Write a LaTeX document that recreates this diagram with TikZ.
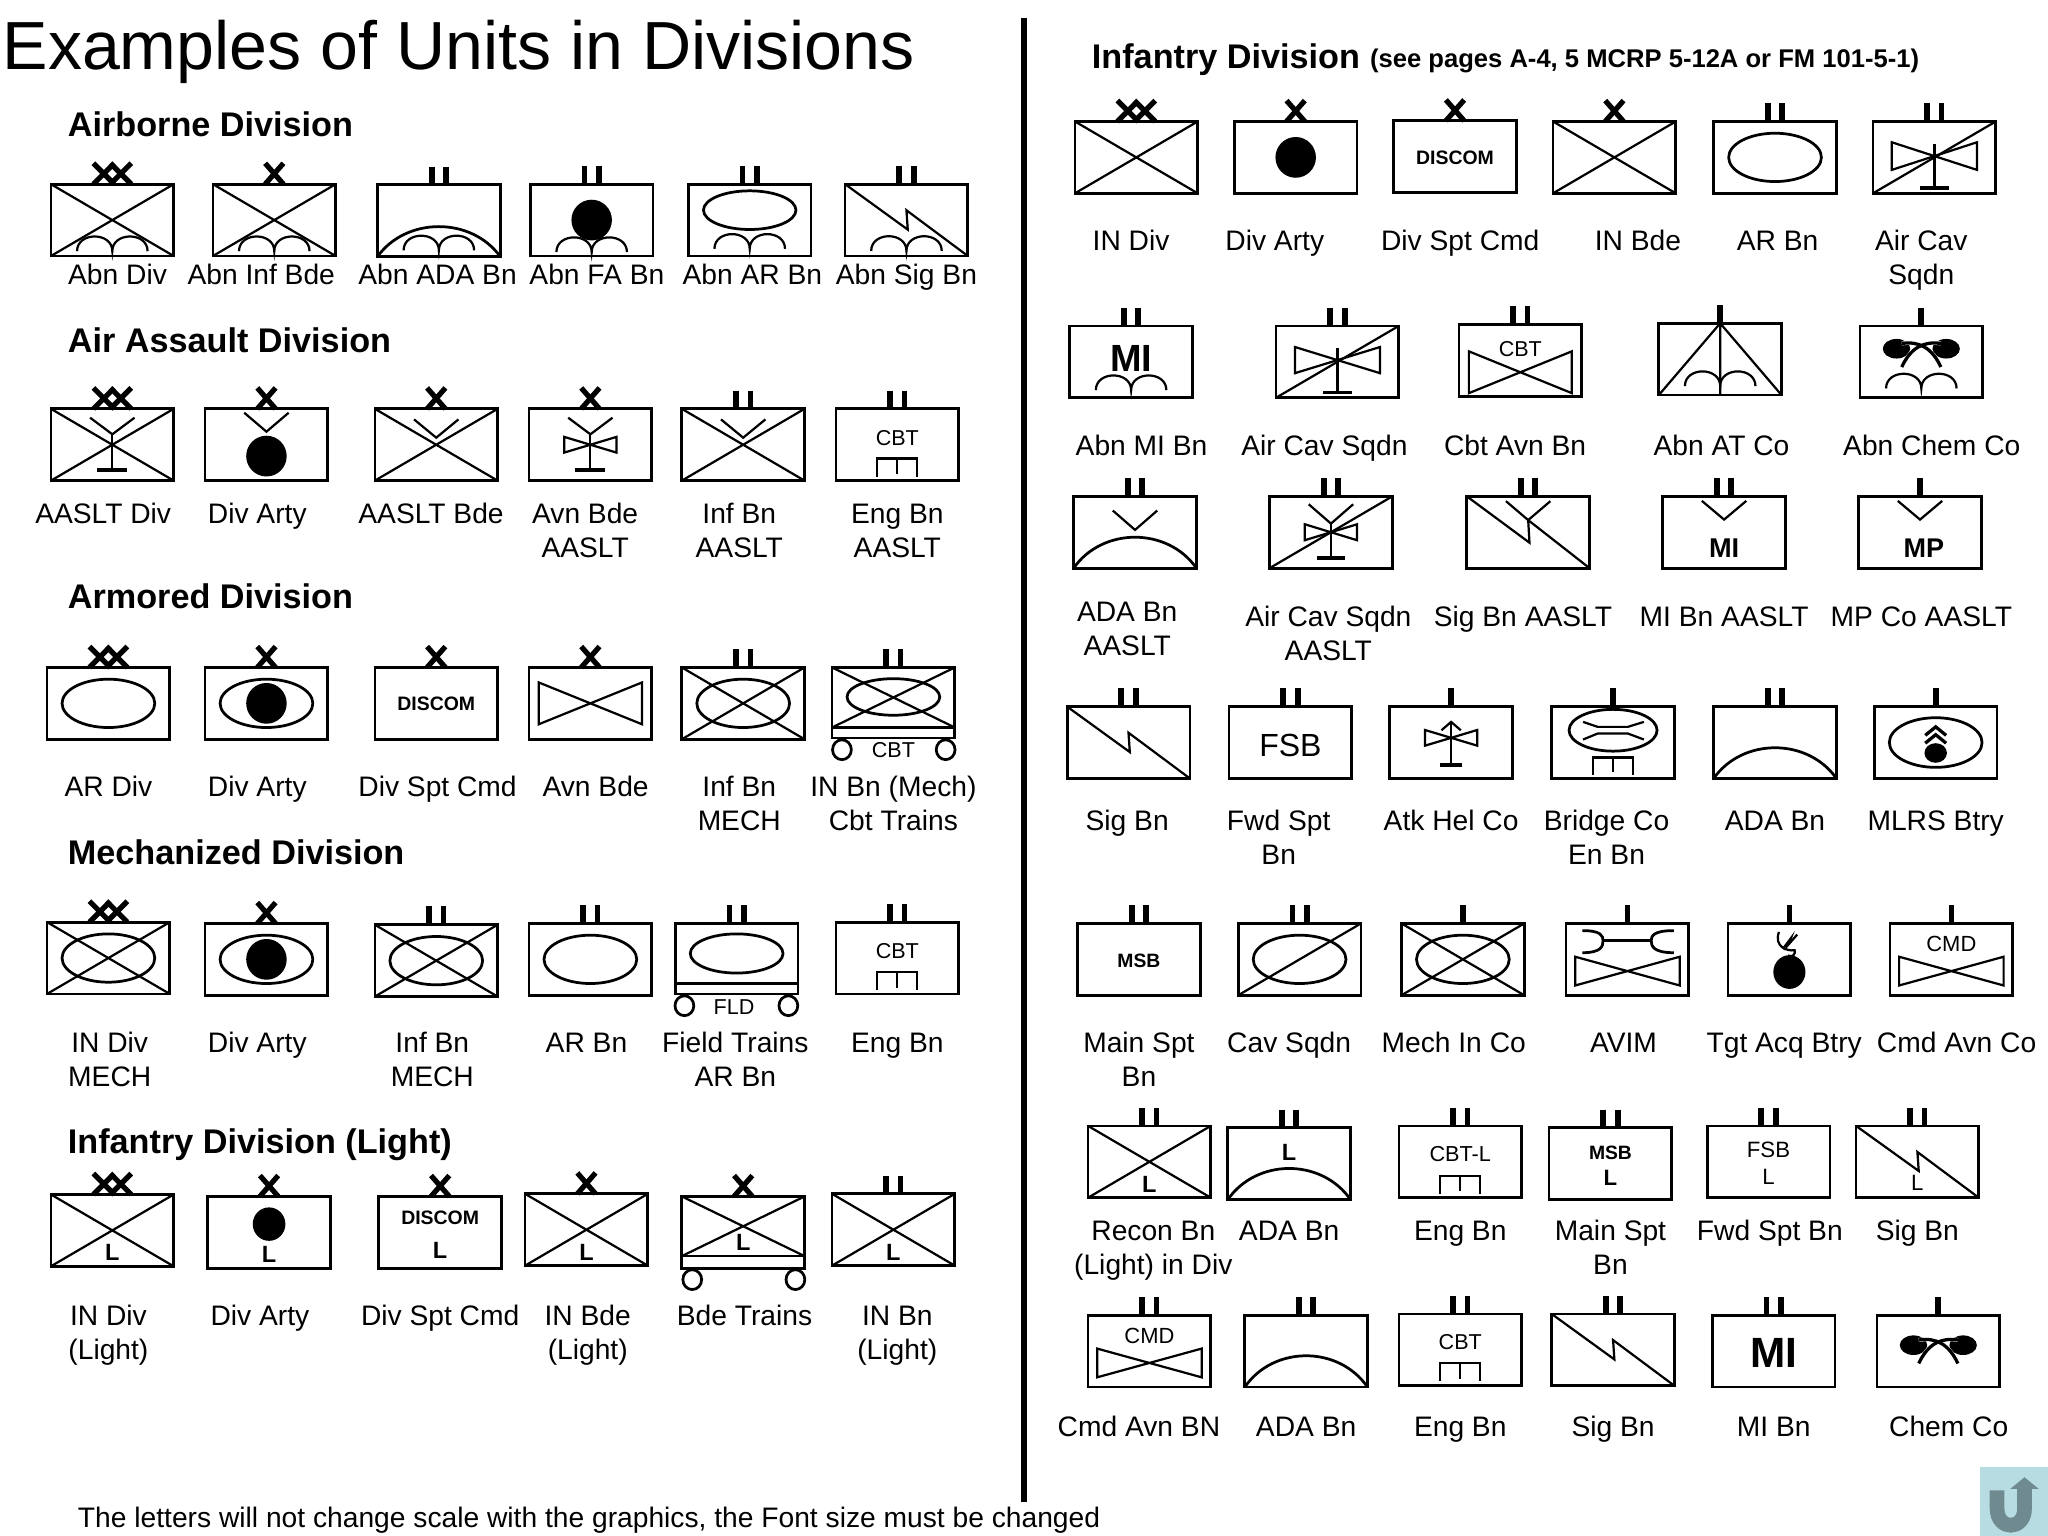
\documentclass[tikz,border=0pt]{standalone}
\usepackage{fontspec}
\setmainfont{Liberation Sans}
\newcount\nn
\definecolor{iconbg}{HTML}{B7DDE3}
\definecolor{iconfg}{HTML}{6F8B90}
\tikzset{
  x=0.02cm,y=-0.02cm,
  boxln/.style={line width=0.042cm},
  th/.style={line width=0.034cm,line join=miter},
  ech/.style={line width=0.08cm},
  unitbox/.style={draw,boxln,rectangle,inner sep=0pt,outer sep=0pt,fill=white},
  plain/.style={inner sep=0pt,outer sep=0pt}
}
% text helpers
\newcommand\usz[1]{\fontsize{\fpeval{#1*0.569}pt}{\fpeval{#1*0.7}pt}\selectfont}
\newcommand\Lb[3]{\global\advance\nn 1\relax\node[plain,anchor=base] (t\the\nn) at (#1,#2+7.5) {\usz{21.6}#3};}
\newcommand\Hd[3]{\global\advance\nn 1\relax\node[plain,anchor=base west] (t\the\nn) at (#1,#2+8.5) {\usz{26.2}\bfseries #3};}
\newcommand\Tr[4]{\global\advance\nn 1\relax\node[plain] (t\the\nn) at (#1,#2) {\usz{#3}#4};}
\newcommand\Tb[4]{\global\advance\nn 1\relax\node[plain] (t\the\nn) at (#1,#2) {\usz{#3}\bfseries #4};}
% echelons
\newcommand\eXX{\draw[ech] (-14.5,-\hh-16)--(1.5,-\hh) (-14.5,-\hh)--(1.5,-\hh-16) (-1.5,-\hh-16)--(14.5,-\hh) (-1.5,-\hh)--(14.5,-\hh-16);}
\newcommand\eX{\draw[ech] (-7,-\hh-16)--(7,-\hh) (-7,-\hh)--(7,-\hh-16);}
\newcommand\eII{\draw[ech,line width=0.088cm] (-5.5,-\hh-14)--(-5.5,-\hh) (5.5,-\hh-14)--(5.5,-\hh);}
\newcommand\eI{\draw[ech,line width=0.088cm] (0,-\hh-14)--(0,-\hh);}
\newcommand\eN{}
% unit frame
\newcommand\mil[5][55]{%
  \begin{scope}[shift={(#2,#3)}]
  \pgfmathsetmacro\hh{#1/2}
  \global\advance\nn 1\relax
  \node[unitbox,minimum width=1.88cm,minimum height=#1*0.02cm] (b\the\nn) at (0,0) {};
  #4
  #5
  \end{scope}}
% symbols
\newcommand\Xd{\draw[th] (-47,-\hh)--(47,\hh) (-47,\hh)--(47,-\hh);}
\newcommand\Sld{\draw[th] (-47,\hh)--(47,-\hh);}
\newcommand\Ov[3]{\draw[boxln] (0,#1) ellipse [x radius=#2,y radius=#3];}
\newcommand\Dt[3]{\fill (0,#1) ellipse [x radius=#2,y radius=#3];}
\newcommand\Ab[1]{\draw[th] (-27,#1) .. controls (-27,#1-15) and (0,#1-15) .. (0,#1) .. controls (0,#1-15) and (27,#1-15) .. (27,#1);}
\newcommand\Ad[1]{\draw[boxln] (-47,\hh) .. controls (-25,{#1*4/3-\hh/3}) and (25,{#1*4/3-\hh/3}) .. (47,\hh);}
\newcommand\Zg[2]{\draw[th] (-47,-\hh)--(1,#2)--(0,#1)--(47,\hh);}
\newcommand\Bw[3]{\draw[th] (-#2,#1-#3)--(#2,#1+#3)--(#2,#1-#3)--(-#2,#1+#3)--cycle;}
\newcommand\Vv[2]{\draw[th] (-17,#1)--(0,#2)--(17,#1);}
\newcommand\Stem[3]{\draw[th] (0,#1)--(0,#2); \draw[line width=0.06cm] (-#3,#2)--(#3,#2);}
\newcommand\En[2]{\draw[th] (-15.3,#2)--(-15.3,#1)--(15.3,#1)--(15.3,#2) (0,#1)--(0,#2-2);}
\newcommand\Whl[3]{\draw[boxln] (#1,#3) ellipse [x radius=7.2,y radius=7.6] (#2,#3) ellipse [x radius=7.2,y radius=7.6];}
\newcommand\Chem[1]{%
  \fill (-19,#1) ellipse [x radius=10.5,y radius=7.5];
  \fill (19,#1) ellipse [x radius=10.5,y radius=7.5];
  \draw[white,line width=0.06cm] (-15,#1+14) .. controls (-8,#1-1) and (2,#1-6) .. (15,#1-4);
  \draw[white,line width=0.06cm] (15,#1+14) .. controls (8,#1-1) and (-2,#1-6) .. (-15,#1-4);
  \draw[line width=0.05cm] (-15,#1+14) .. controls (-8,#1-1) and (2,#1-6) .. (15,#1-4);
  \draw[line width=0.05cm] (15,#1+14) .. controls (8,#1-1) and (-2,#1-6) .. (-15,#1-4);}
\begin{document}
\begin{tikzpicture}
\useasboundingbox (0,0) rectangle (1568,1176);
\global\advance\nn 1\relax
\node[plain,anchor=base west] (title) at (2,53) {\usz{52.15}Examples of Units in Divisions};
\coordinate (divtop) at (784,14);
\coordinate (divbot) at (784,1150);
\draw[line width=0.08cm] (divtop)--(divbot);

%% Airborne
\Hd{52}{96}{Airborne Division}
\mil{86}{168.5}{\eXX}{\Xd\Ab{23.8}}
\mil{210}{168.5}{\eX}{\Xd\Ab{23.8}}
\mil{336}{169}{\eII}{\Ad{4.5}\Ab{22.7}}
\mil{453}{168.5}{\eII}{\Dt{0}{15.5}{15.6}\Ab{24.5}}
\mil{574}{168.5}{\eII}{\Ov{-7.6}{35.4}{14.8}\Ab{22}}
\mil{694}{168.5}{\eII}{\Zg{-7.5}{7.3}\Ab{23.6}}
\Lb{90}{210}{Abn Div}\Lb{200}{210}{Abn Inf Bde}\Lb{335}{210}{Abn ADA Bn}\Lb{457}{210}{Abn FA Bn}\Lb{576}{210}{Abn AR Bn}\Lb{694}{210}{Abn Sig Bn}

%% Air Assault
\Hd{52}{261}{Air Assault Division}
\mil{86}{340.5}{\eXX}{\Xd\Vv{-20.7}{-8}\Stem{-8}{19.6}{11.5}}
\mil{204}{340.5}{\eX}{\Vv{-24.5}{-10}\Dt{8.7}{15.5}{15.6}}
\mil{334}{340.5}{\eX}{\Xd\Vv{-19.4}{-5.4}}
\mil{452}{340.5}{\eX}{\Vv{-20.7}{-8}\Stem{-8}{19.6}{11.5}\Bw{0}{20}{6}}
\mil{569}{340.5}{\eII}{\Xd\Vv{-19.4}{-5.4}}
\mil{687}{340.5}{\eII}{\Tr{0}{-5.4}{16.5}{CBT}\En{10.5}{24.7}}
\Lb{79}{393}{AASLT Div}\Lb{197}{393}{Div Arty}\Lb{330}{393}{AASLT Bde}
\Lb{448}{393}{Avn Bde}\Lb{448}{419}{AASLT}\Lb{566}{393}{Inf Bn}\Lb{566}{419}{AASLT}\Lb{687}{393}{Eng Bn}\Lb{687}{419}{AASLT}

%% Armored
\Hd{52}{457}{Armored Division}
\mil{83}{538.5}{\eXX}{\Ov{0}{35.5}{18.5}}
\mil{204}{538.5}{\eX}{\Ov{0}{35.5}{18.5}\Dt{0}{15.5}{15.6}}
\mil{334}{538.5}{\eX}{\Tb{0}{0.5}{14.9}{DISCOM}}
\mil{452}{538.5}{\eX}{\Bw{0}{39.5}{16}}
\mil{569}{538.5}{\eII}{\Xd\Ov{0}{35.5}{18.5}}
\mil[54]{684}{538}{\eII}{\draw[th] (-47,-27)--(47,19) (-47,19)--(47,-27); \Ov{-4.4}{35.5}{14}\draw[boxln] (-47,19)--(47,19); \Whl{-39.4}{40}{36}\Tr{0}{36.5}{16.5}{CBT}}
\Lb{83}{602}{AR Div}\Lb{197}{602}{Div Arty}\Lb{335}{602}{Div Spt Cmd}\Lb{456}{602}{Avn Bde}
\Lb{566}{602}{Inf Bn}\Lb{566}{628}{MECH}\Lb{684}{602}{IN Bn (Mech)}\Lb{684}{628}{Cbt Trains}

%% Mechanized
\Hd{52}{653}{Mechanized Division}
\mil{83}{733.5}{\eXX}{\Xd\Ov{0}{35.5}{18.5}}
\mil{204}{734.5}{\eX}{\Ov{0}{35.5}{18.5}\Dt{0}{15.5}{15.6}}
\mil{334}{735.5}{\eII}{\Xd\Ov{0}{35.5}{18.5}}
\mil{452}{734.5}{\eII}{\Ov{0}{35.5}{18.5}}
\mil[54]{564}{734}{\eII}{\Ov{-4}{35.5}{15}\draw[boxln] (-47,19)--(47,19); \Whl{-40}{39.6}{36}\Tr{-2}{37}{16.5}{FLD}}
\mil{687}{733.5}{\eII}{\Tr{0}{-5.4}{16.5}{CBT}\En{10.5}{24.7}}
\Lb{84}{798}{IN Div}\Lb{84}{824}{MECH}\Lb{197}{798}{Div Arty}\Lb{331}{798}{Inf Bn}\Lb{331}{824}{MECH}
\Lb{449}{798}{AR Bn}\Lb{563}{798}{Field Trains}\Lb{563}{824}{AR Bn}\Lb{687}{798}{Eng Bn}

%% Infantry (Light)
\Hd{52}{875}{Infantry Division (Light)}
\mil{86}{942}{\eXX}{\Xd\Tb{0}{17}{18}{L}}
\mil{206}{943.5}{\eX}{\Dt{-6.3}{12.5}{12.8}\Tb{0}{16.7}{18}{L}}
\mil{337}{943.5}{\eX}{\Tb{0}{-11}{14.9}{DISCOM}\Tb{0}{13.7}{18}{L}}
\mil{449}{941.5}{\eX}{\Xd\Tb{0}{17}{18}{L}}
\mil[55]{569}{943.5}{\eX}{\draw[th] (-47,-27.5)--(47,18.2) (-47,18.2)--(47,-27.5); \draw[boxln] (-47,18.2)--(47,18.2); \Whl{-39}{40}{36.2}\Tb{0}{7.5}{18}{L}}
\mil{684}{941.5}{\eII}{\Xd\Tb{0}{17}{18}{L}}
\Lb{83}{1007}{IN Div}\Lb{83}{1033}{(Light)}\Lb{199}{1007}{Div Arty}\Lb{337}{1007}{Div Spt Cmd}
\Lb{450}{1007}{IN Bde}\Lb{450}{1033}{(Light)}\Lb{570}{1007}{Bde Trains}\Lb{687}{1007}{IN Bn}\Lb{687}{1033}{(Light)}

\Lb{451}{1162}{The letters will not change scale with the graphics, the Font size must be changed}

%% Right heading
\Hd{836}{44}{Infantry Division}
\global\advance\nn 1\relax
\node[plain,anchor=base west] (seepages) at (1049,52) {\usz{19.6}\bfseries (see pages A-4, 5 MCRP 5-12A or FM 101-5-1)};

%% R1
\mil{870}{120.5}{\eXX}{\Xd}
\mil{992}{120.5}{\eX}{\Dt{0}{15.5}{15.6}}
\mil{1114}{120}{\eX}{\Tb{0}{0.5}{14.9}{DISCOM}}
\mil{1236}{120.5}{\eX}{\Xd}
\mil{1359}{120.5}{\eII}{\Ov{0}{35.5}{18.5}}
\mil{1481}{120.5}{\eII}{\Sld\Bw{-1}{32.7}{10.6}\Stem{-10.5}{23.5}{11}}
\Lb{866}{184}{IN Div}\Lb{976}{184}{Div Arty}\Lb{1118}{184}{Div Spt Cmd}\Lb{1254}{184}{IN Bde}\Lb{1361}{184}{AR Bn}\Lb{1471}{184}{Air Cav}\Lb{1471}{210}{Sqdn}

%% R2
\mil{866}{277}{\eII}{\Tb{0}{-2.5}{29}{MI}\Ab{21.7}}
\mil{1024}{277}{\eII}{\Sld\Bw{-1.3}{32.5}{10}\Stem{-10.5}{23.5}{11}}
\mil{1164}{276}{\eII}{\Tr{0}{-9}{16.5}{CBT}\Bw{9}{39.4}{16}}
\mil{1317}{275}{\eI}{\draw[th] (-47,\hh)--(0,-\hh)--(47,\hh) (0,-\hh)--(0,\hh); \Ab{20.6}}
\mil{1471}{277}{\eI}{\Chem{-10}\Ab{20.4}}
\Lb{874}{341}{Abn MI Bn}\Lb{1014}{341}{Air Cav Sqdn}\Lb{1160}{341}{Cbt Avn Bn}\Lb{1318}{341}{Abn AT Co}\Lb{1479}{341}{Abn Chem Co}

%% R3
\mil{869}{407.5}{\eII}{\Ad{3.8}\Vv{-16.6}{-1.8}}
\mil{1019}{407.5}{\eII}{\Sld\Vv{-21.4}{-6.6}\Stem{-6.6}{20}{11}\Bw{0}{20}{6.1}}
\mil{1170}{407.5}{\eII}{\Zg{-9.3}{8}\Vv{-23.8}{-9.3}}
\mil{1320}{407.5}{\eII}{\Vv{-24}{-9.7}\Tb{0}{12}{20.8}{MI}}
\mil{1470}{407.5}{\eI}{\Vv{-24}{-9.7}\Tb{3}{12}{20.7}{MP}}
\Lb{863}{468}{ADA Bn}\Lb{863}{494}{AASLT}\Lb{1017}{472}{Air Cav Sqdn}\Lb{1017}{498}{AASLT}\Lb{1166}{472}{Sig Bn AASLT}\Lb{1320}{472}{MI Bn AASLT}\Lb{1471}{472}{MP Co AASLT}

%% R4
\mil{864}{568.5}{\eII}{\Zg{-7.5}{7.3}}
\mil{988}{568.5}{\eII}{\Tr{0}{2}{24.5}{FSB}}
\mil{1111}{568.5}{\eI}{\Stem{-15.8}{17}{8.6}\draw[th] (-7.4,-9.4)--(0,-15.8)--(7.4,-9.4); \Bw{-3.6}{20}{6}}
\mil{1235}{568.5}{\eI}{\Ov{-9.4}{33.7}{16}\draw[th] (-23,-15.8)--(-11.8,-12)--(11.3,-12)--(23.6,-15.8) (-23,-2.3)--(-11.8,-6.9)--(11.3,-6.9)--(23.6,-2.3); \En{11.5}{24.5}}
\mil{1359}{568.5}{\eII}{\Ad{4}}
\mil{1482}{568.5}{\eI}{\Ov{0}{35.5}{19}\Dt{8}{8.6}{7.5}\draw[line width=0.05cm] (-8,-5.5)--(0,-12)--(8,-5.5) (-8,0.5)--(0,-6)--(8,0.5);}
\Lb{863}{628}{Sig Bn}\Lb{979}{628}{Fwd Spt}\Lb{979}{654}{Bn}\Lb{1111}{628}{Atk Hel Co}\Lb{1230}{628}{Bridge Co}\Lb{1230}{654}{En Bn}\Lb{1359}{628}{ADA Bn}\Lb{1482}{628}{MLRS Btry}

%% R5
\mil{872}{734.5}{\eII}{\Tb{0}{1}{14.8}{MSB}}
\mil{995}{734.5}{\eII}{\Sld\Ov{0}{35.5}{18.5}}
\mil{1120}{734.5}{\eI}{\Xd\Ov{0}{35.5}{18.5}}
\mil{1246}{734.5}{\eI}{\draw[boxln] (-34.5,-22) .. controls (-20,-22) and (-18.7,-18) .. (-18.7,-14.3) .. controls (-18.7,-10) and (-20,-5.1) .. (-34.5,-5.1);
  \draw[boxln] (35.5,-22) .. controls (20,-22) and (18.2,-18) .. (18.2,-14.3) .. controls (18.2,-10) and (20,-5.1) .. (35.5,-5.1);
  \draw[boxln] (-18.7,-14.3)--(18.2,-14.3); \Bw{9}{40}{11}}
\mil{1370}{734.5}{\eI}{\Dt{9.7}{12.3}{12.9}\draw[th] (-8,-21) .. controls (-12,-10) and (-2,-6) .. (4,-7) .. controls (5,-4) and (2,-1) .. (-1,-3); \draw[th] (6,-19)--(-1,-11)--(1,-16)--(-5,-8);}
\mil{1494}{734.5}{\eI}{\Tr{0}{-12}{16.8}{CMD}\Bw{9}{40}{11}}
\Lb{872}{798}{Main Spt}\Lb{872}{824}{Bn}\Lb{987}{798}{Cav Sqdn}\Lb{1113}{798}{Mech In Co}\Lb{1243}{798}{AVIM}\Lb{1366}{798}{Tgt Acq Btry}\Lb{1498}{798}{Cmd Avn Co}

%% R6
\mil{880}{889.5}{\eII}{\Xd\Tb{0}{17.6}{18}{L}}
\mil{987}{891}{\eII}{\Ad{3.6}\Tb{0}{-8.9}{18}{L}}
\mil{1118}{889.5}{\eII}{\Tr{0}{-5.6}{16.6}{CBT-L}\En{11}{24.5}}
\mil{1233}{891}{\eII}{\Tb{0}{-8}{14.8}{MSB}\Tb{0}{10.5}{17}{L}}
\mil{1354}{889.5}{\eII}{\Tr{0}{-9}{17}{FSB}\Tr{0}{11.5}{17}{L}}
\mil{1468}{889.5}{\eII}{\Zg{-7.5}{7}\Tr{0}{16}{17}{L}}
\Lb{883}{942}{Recon Bn}\Lb{883}{968}{(Light) in Div}\Lb{987}{942}{ADA Bn}\Lb{1118}{942}{Eng Bn}\Lb{1233}{942}{Main Spt}\Lb{1233}{968}{Bn}\Lb{1355}{942}{Fwd Spt Bn}\Lb{1468}{942}{Sig Bn}

%% R7
\mil{880}{1034.5}{\eII}{\Tr{0}{-12}{16.8}{CMD}\Bw{9}{40}{11}}
\mil{1000}{1034.5}{\eII}{\Ad{3.5}}
\mil{1118}{1033.5}{\eII}{\Tr{0}{-5.6}{16.5}{CBT}\En{10}{24}}
\mil{1235}{1033.5}{\eII}{\Zg{-7.5}{7.3}}
\mil{1358}{1034.5}{\eII}{\Tb{0}{1.3}{32.4}{MI}}
\mil{1484}{1034.5}{\eI}{\Chem{-4.6}}
\Lb{872}{1092}{Cmd Avn BN}\Lb{1000}{1092}{ADA Bn}\Lb{1118}{1092}{Eng Bn}\Lb{1235}{1092}{Sig Bn}\Lb{1358}{1092}{MI Bn}\Lb{1492}{1092}{Chem Co}

%% return icon
\fill[iconbg] (1516,1123) rectangle (1568,1176);
\draw[iconfg,line width=0.225cm] (1529,1141)--(1529,1155) .. controls (1529,1172) and (1550,1172) .. (1550,1155)--(1550,1139);
\fill[iconfg] (1539,1140)--(1550,1131)--(1561,1140)--cycle;
\end{tikzpicture}
\end{document}
